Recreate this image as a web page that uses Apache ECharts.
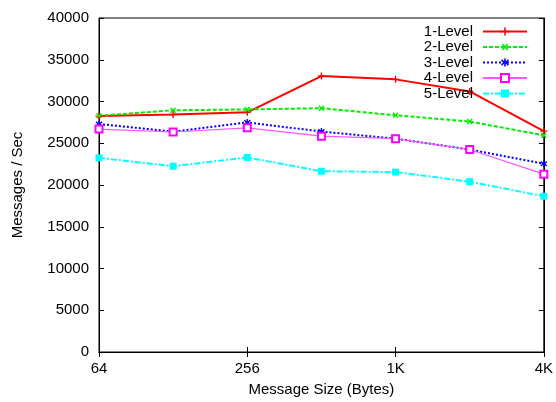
<!DOCTYPE html>
<html>
<head>
<meta charset="utf-8">
<script src="https://cdn.jsdelivr.net/npm/echarts@6/dist/echarts.min.js"></script>
<style>html,body{margin:0;padding:0;background:#fff;}#c{width:556px;height:402px;}</style>
</head>
<body>
<div id="c"></div>
<script>
const categories = ['64', '128', '256', '512', '1K', '2K', '4K'];
const level1 = [28250, 28450, 28700, 33050, 32650, 31200, 26450];
const level2 = [28300, 28950, 29050, 29200, 28350, 27600, 25950];
const level3 = [27300, 26400, 27500, 26400, 25550, 24250, 22550];
const level4 = [26700, 26350, 26850, 25850, 25550, 24250, 21300];
const level5 = [23250, 22250, 23300, 21650, 21550, 20400, 18650];
const yTicks = { min: 0, max: 40000, interval: 5000 };

const FONT = 'Liberation Sans';
const plus = 'path://M4,0H6V4H10V6H6V10H4V6H0V4H4Z';
const star = 'path://M4,0H6V3.6L8.6,1L10,2.4L7.4,5L10,7.6L8.6,9L6,6.4V10H4V6.4L1.4,9L0,7.6L2.6,5L0,2.4L1.4,1L4,3.6Z';

function mk(name, data, color, lineType, width, symbol, size, extra) {
  return Object.assign({
    name: name, type: 'line', data: data,
    xAxisIndex: 0, yAxisIndex: 0,
    symbol: symbol, symbolSize: size,
    showAllSymbol: true,
    lineStyle: { color: color, width: width, type: lineType },
    itemStyle: { color: color },
    emphasis: { disabled: true },
    animation: false
  }, extra || {});
}

const chart = echarts.init(document.getElementById('c'), null, { renderer: 'canvas' });
chart.setOption({
  animation: false,
  textStyle: { fontFamily: FONT },
  grid: { left: 99, right: 9, top: 18, bottom: 49, show: true, borderColor: '#000', borderWidth: 1, backgroundColor: 'transparent' },
  legend: {
    orient: 'vertical', right: 28, top: 24, align: 'right', padding: 0,
    itemWidth: 44, itemHeight: 10, itemGap: 0.5,
    textStyle: { fontFamily: FONT, fontSize: 15, color: '#000', padding: [0, 5, 0, 0] },
    data: ['1-Level', '2-Level', '3-Level', '4-Level', '5-Level']
  },
  xAxis: [{
    type: 'category', data: categories, boundaryGap: false, position: 'bottom',
    name: 'Message Size (Bytes)', nameLocation: 'middle', nameGap: 30,
    nameTextStyle: { fontFamily: FONT, fontSize: 15, color: '#000' },
    axisLine: { show: true, lineStyle: { color: '#000', width: 1 } },
    axisTick: { show: true, inside: true, interval: 1, length: 5, lineStyle: { color: '#000' } },
    axisLabel: { interval: 1, fontFamily: FONT, fontSize: 15, color: '#000', margin: 9 },
    splitLine: { show: false }
  }, {
    type: 'category', data: categories, boundaryGap: false, position: 'top',
    axisLine: { show: true, lineStyle: { color: '#000', width: 1 } },
    axisTick: { show: true, inside: true, interval: 1, length: 5, lineStyle: { color: '#000' } },
    axisLabel: { show: false }, splitLine: { show: false }
  }],
  yAxis: [{
    type: 'value', min: yTicks.min, max: yTicks.max, interval: yTicks.interval, position: 'left',
    name: 'Messages / Sec', nameLocation: 'middle', nameGap: 74,
    nameTextStyle: { fontFamily: FONT, fontSize: 15, color: '#000' },
    axisLine: { show: true, lineStyle: { color: '#000', width: 1 } },
    axisTick: { show: true, inside: true, length: 5, lineStyle: { color: '#000' } },
    axisLabel: { fontFamily: FONT, fontSize: 15, color: '#000', margin: 10, formatter: function (v) { return String(v); } },
    splitLine: { show: false }
  }, {
    type: 'value', min: yTicks.min, max: yTicks.max, interval: yTicks.interval, position: 'right',
    axisLine: { show: true, lineStyle: { color: '#000', width: 1 } },
    axisTick: { show: true, inside: true, length: 5, lineStyle: { color: '#000' } },
    axisLabel: { show: false }, splitLine: { show: false }
  }],
  series: [
    mk('1-Level', level1, '#ff0000', 'solid', 2, plus, 7),
    mk('2-Level', level2, '#00ee00', [4, 2], 2, plus, 7, { symbolRotate: 45 }),
    mk('3-Level', level3, '#0000ff', [2, 2], 2, star, 7),
    mk('4-Level', level4, '#ff55ff', 'solid', 1.2, 'emptyRect', 7, { itemStyle: { color: '#ff00ff', borderWidth: 1.5 } }),
    mk('5-Level', level5, '#00ffff', [6, 2, 2, 2], 2, 'rect', 7)
  ]
});
</script>
</body>
</html>
